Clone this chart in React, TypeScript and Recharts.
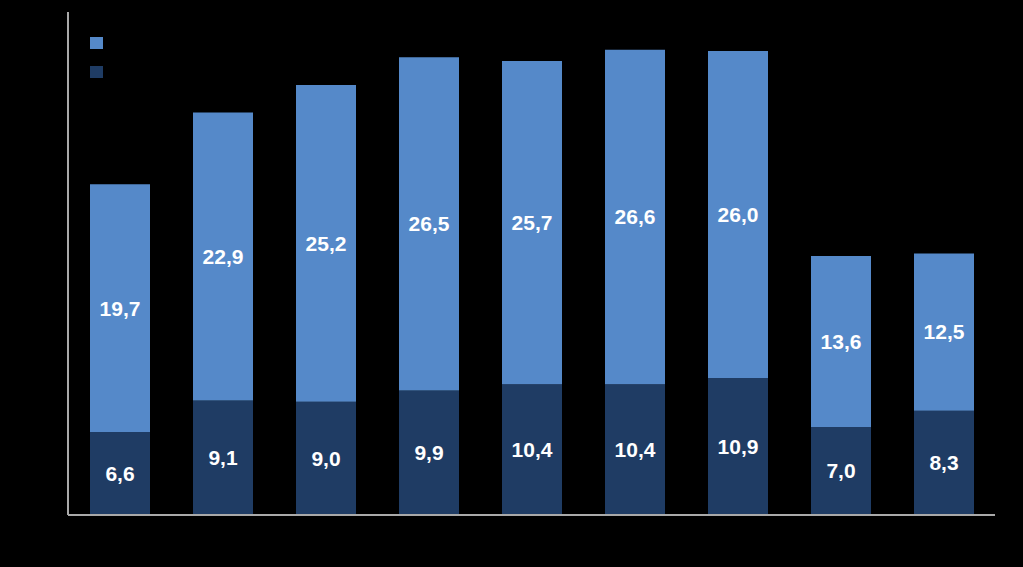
import { BarChart, Bar, XAxis, YAxis, Legend, LabelList } from 'recharts';

const categories = ['1', '2', '3', '4', '5', '6', '7', '8', '9'];
const lowerValues = [6.6, 9.1, 9.0, 9.9, 10.4, 10.4, 10.9, 7.0, 8.3];
const upperValues = [19.7, 22.9, 25.2, 26.5, 25.7, 26.6, 26.0, 13.6, 12.5];
const seriesNames = ['Série 1', 'Série 2'];

const LIGHT = '#5589c9';
const DARK = '#1f3c64';

const data = categories.map((name, i) => ({
    name,
    lower: lowerValues[i],
    upper: upperValues[i],
}));

const fmt = (v: any) => Number(v).toFixed(1).replace('.', ',');

// legend only shows the colour squares, no text; zero height so it takes no room from the plot
const LegendSquares = () => (
    <div style={{ position: 'relative', width: 20, height: 0 }}>
        <div style={{ position: 'absolute', left: 0, top: 0, width: 13, height: 12, background: LIGHT }} />
        <div style={{ position: 'absolute', left: 0, top: 29, width: 13, height: 12, background: DARK }} />
    </div>
);

const labelStyle = { fontFamily: 'Liberation Sans, Arial, sans-serif', fontWeight: 'bold', fontSize: 21 };

const App = () => {
    return (
        <div style={{ position: 'absolute', left: 0, top: 0, width: 1023, height: 567, background: '#000' }}>
            <BarChart
                width={1023}
                height={567}
                data={data}
                margin={{ top: 12, right: 28, bottom: 51, left: 67 }}
                barSize={60}
            >
                <XAxis dataKey="name" tick={false} height={1} tickLine={false} axisLine={{ stroke: '#a9a9a9', strokeWidth: 2 }} />
                <YAxis domain={[0, 40]} tick={false} width={1} tickLine={false} axisLine={{ stroke: '#a9a9a9', strokeWidth: 2 }} />
                <Legend
                    verticalAlign="top"
                    align="left"
                    content={<LegendSquares />}
                    wrapperStyle={{ position: 'absolute', left: 90, top: 37, width: 20, height: 0 }}
                />
                <Bar dataKey="lower" name={seriesNames[1]} stackId="a" fill={DARK} isAnimationActive={false}>
                    <LabelList dataKey="lower" position="center" formatter={fmt} fill="#fff" style={labelStyle} />
                </Bar>
                <Bar dataKey="upper" name={seriesNames[0]} stackId="a" fill={LIGHT} isAnimationActive={false}>
                    <LabelList dataKey="upper" position="center" formatter={fmt} fill="#fff" style={labelStyle} />
                </Bar>
            </BarChart>
        </div>
    );
};

export default App;
